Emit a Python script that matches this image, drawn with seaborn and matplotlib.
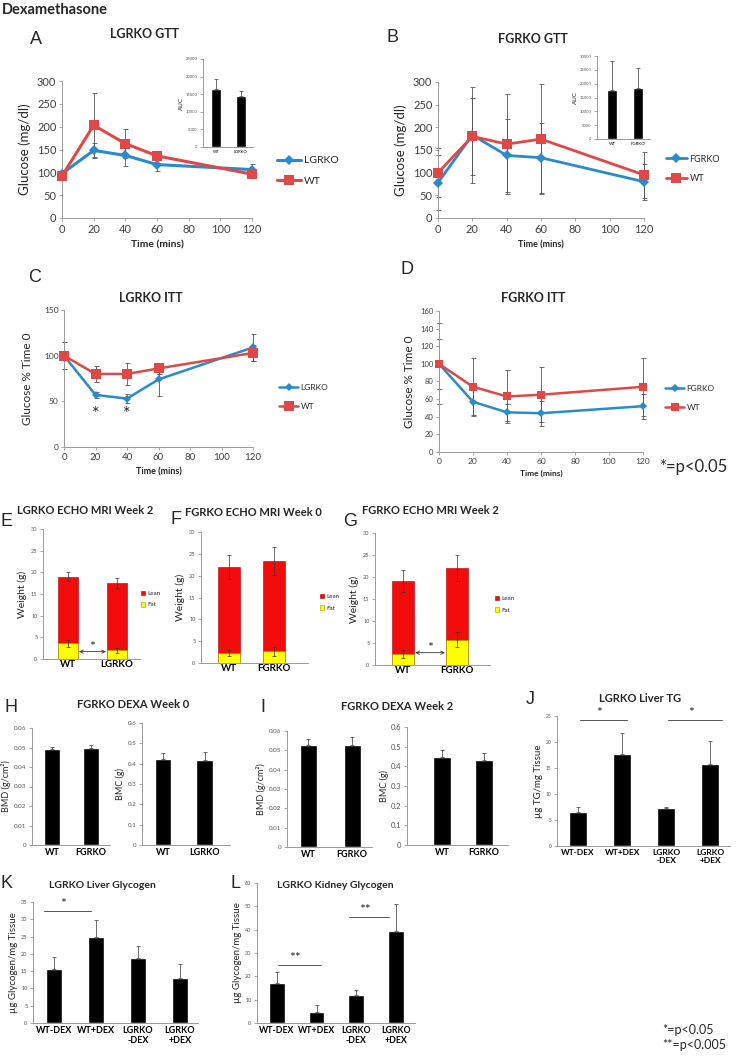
import numpy as np
import pandas as pd
import matplotlib
matplotlib.use("Agg")
import matplotlib.pyplot as plt
import seaborn as sns
from matplotlib.patches import Patch

# values
times = [0, 20, 40, 60, 120]

# A  LGRKO GTT
gtt_lgrko = [97, 148, 137, 117, 106]
gtt_lgrko_err = [8, 17, 23, 15, 13]
gtt_lgrko_wt = [92, 203, 163, 136, 96]
gtt_lgrko_wt_err = [6, 70, 32, 10, 5]
auc_a_groups = ["WT", "LGRKO"]
auc_a = [16500, 14500]
auc_a_err = [2700, 1500]

# B  FGRKO GTT
gtt_fgrko = [78, 183, 138, 133, 80]
gtt_fgrko_err = [60, 105, 80, 77, 40]
gtt_fgrko_wt = [100, 180, 163, 174, 95]
gtt_fgrko_wt_err = [54, 85, 110, 122, 50]
auc_b_groups = ["WT", "FGRKO"]
auc_b = [17800, 18300]
auc_b_err = [10500, 7400]

# C  LGRKO ITT
itt_lgrko = [100, 57, 53, 74, 109]
itt_lgrko_err = [15, 3, 5, 18, 15]
itt_lgrko_wt = [100, 80, 80, 86, 103]
itt_lgrko_wt_err = [15, 9, 12, 6, 9]
itt_lgrko_sig = [20, 40]

# D  FGRKO ITT
itt_fgrko = [100, 57, 45, 44, 52]
itt_fgrko_err = [28, 15, 10, 14, 14]
itt_fgrko_wt = [100, 74, 63, 65, 74]
itt_fgrko_wt_err = [46, 33, 30, 31, 33]

# E/F/G  echo MRI (total = lean + fat)
mri_e_groups = ["WT", "LGRKO"]
mri_e_total = [19.0, 17.6]
mri_e_total_err = [1.1, 1.1]
mri_e_fat = [3.6, 2.0]
mri_e_fat_err = [0.9, 0.5]

mri_f_groups = ["WT", "FGRKO"]
mri_f_total = [22.0, 23.3]
mri_f_total_err = [2.8, 3.2]
mri_f_fat = [2.3, 2.7]
mri_f_fat_err = [0.7, 1.0]

mri_g_groups = ["WT", "FGRKO"]
mri_g_total = [19.0, 22.0]
mri_g_total_err = [2.5, 3.0]
mri_g_fat = [2.5, 5.7]
mri_g_fat_err = [1.0, 1.7]

# H/I  DEXA
dexa_h_bmd_groups = ["WT", "FGRKO"]
dexa_h_bmd = [0.049, 0.0495]
dexa_h_bmd_err = [0.0015, 0.0017]
dexa_h_bmc_groups = ["WT", "LGRKO"]
dexa_h_bmc = [0.425, 0.418]
dexa_h_bmc_err = [0.027, 0.037]
dexa_i_bmd_groups = ["WT", "FGRKO"]
dexa_i_bmd = [0.053, 0.053]
dexa_i_bmd_err = [0.003, 0.004]
dexa_i_bmc_groups = ["WT", "FGRKO"]
dexa_i_bmc = [0.45, 0.43]
dexa_i_bmc_err = [0.035, 0.04]

# J/K/L  tissue assays
dex_groups = ["WT-DEX", "WT+DEX", "LGRKO\n-DEX", "LGRKO\n+DEX"]
liver_tg = [6.6, 17.6, 7.3, 15.7]
liver_tg_err = [0.9, 4.2, 0.2, 4.5]
liver_glycogen = [15.7, 25.0, 18.8, 13.1]
liver_glycogen_err = [3.4, 4.7, 3.6, 4.0]
kidney_glycogen = [17.0, 4.8, 12.0, 39.5]
kidney_glycogen_err = [4.7, 3.0, 2.3, 11.5]

W, H = 740, 1056
BLUE = "#2A8BCC"
RED = "#E04848"
LEAN = "#F20C0C"
FAT = "#FFFF00"

sns.set_style("ticks")
plt.rcParams["font.family"] = ["Lato", "DejaVu Sans"]
plt.rcParams["axes.linewidth"] = 0.8

fig = plt.figure(figsize=(W / 100, H / 100), dpi=100)


def add_ax(l, t, r, b):
    return fig.add_axes([l / W, 1 - b / H, (r - l) / W, (b - t) / H])


def ftext(x, y, s, **kw):
    kw.setdefault("ha", "center")
    kw.setdefault("va", "center")
    fig.text(x / W, 1 - y / H, s, **kw)


def style(ax, fs, labelcolor="#555555"):
    sns.despine(ax=ax)
    for sp in ("left", "bottom"):
        ax.spines[sp].set_color("#9a9a9a")
        ax.spines[sp].set_linewidth(0.7)
    ax.tick_params(labelsize=fs, colors="#9a9a9a", labelcolor=labelcolor,
                   length=2.5, width=0.6, pad=1.5)


def curves(ax, ko_name, ko, ko_err, wt, wt_err, lw, ms_ko, ms_wt):
    for vals, errs in [(ko, ko_err), (wt, wt_err)]:
        ax.errorbar(times, vals, yerr=errs, fmt="none", ecolor="#555555",
                    elinewidth=0.6, capsize=1.8, capthick=0.6, zorder=1, clip_on=False)
    for name, vals, color, marker, ms in [(ko_name, ko, BLUE, "D", ms_ko),
                                          ("WT", wt, RED, "s", ms_wt)]:
        sns.lineplot(x=times, y=vals, color=color, marker=marker, markersize=ms,
                     markeredgewidth=0, linewidth=lw, label=name, errorbar=None,
                     ax=ax, clip_on=False, zorder=3)
    ax.set_xlim(0, 120)
    ax.set_xticks(range(0, 121, 20))


def curve_legend(ax, x, y, fs, spacing):
    h, l = ax.get_legend_handles_labels()
    ax.legend(h, l, loc="center left", bbox_to_anchor=(x / W, 1 - y / H),
              bbox_transform=fig.transFigure, frameon=False, fontsize=fs,
              handlelength=2.3, handletextpad=0.3, labelspacing=spacing,
              borderpad=0, borderaxespad=0)


def bars(box, cats, vals, errs, yticks, xlim, width, tick_fs, xlab_fs, ylabel, ylab_fs, pad=2):
    ax = add_ax(*box)
    sns.barplot(x=cats, y=vals, color="black", width=width, saturation=1,
                errorbar=None, ax=ax)
    ax.errorbar(np.arange(len(cats)), vals, yerr=[np.zeros(len(vals)), errs],
                fmt="none", ecolor="#555555", elinewidth=0.6, capsize=1.5, capthick=0.6)
    ax.set_xlim(*xlim)
    ax.set_ylim(yticks[0], yticks[-1])
    ax.set_yticks(yticks)
    ax.set_yticklabels([f"{v:g}" for v in yticks])
    style(ax, tick_fs)
    ax.tick_params(axis="x", length=0, labelsize=xlab_fs, labelcolor="black", pad=2)
    for t in ax.get_xticklabels():
        t.set_fontweight("bold")
    ax.set_ylabel(ylabel, fontsize=ylab_fs, labelpad=pad)
    ax.set_xlabel("")
    return ax


def mri(box, cats, total, total_err, fat, fat_err, xlim, width, leg_xy):
    ax = add_ax(*box)
    sns.barplot(x=cats, y=total, color=LEAN, width=width, saturation=1,
                errorbar=None, edgecolor="#b00000", linewidth=0.4, ax=ax)
    sns.barplot(x=cats, y=fat, color=FAT, width=width, saturation=1,
                errorbar=None, edgecolor="#9a9a00", linewidth=0.4, ax=ax)
    pos = np.arange(len(cats))
    for v, e in [(total, total_err), (fat, fat_err)]:
        ax.errorbar(pos, v, yerr=e, fmt="none", ecolor="#333333",
                    elinewidth=0.5, capsize=1.3, capthick=0.5)
    ax.set_xlim(*xlim)
    ax.set_ylim(0, 30)
    ax.set_yticks(range(0, 31, 5))
    style(ax, 4)
    ax.tick_params(axis="x", length=0, labelsize=7, labelcolor="black", pad=1)
    for t in ax.get_xticklabels():
        t.set_fontweight("bold")
    ax.set_ylabel("Weight (g)", fontsize=7.5, labelpad=3)
    ax.set_xlabel("")
    handles = [Patch(facecolor=LEAN, edgecolor="#b00000", lw=0.4),
               Patch(facecolor=FAT, edgecolor="#9a9a00", lw=0.4)]
    ax.legend(handles, ["Lean", "Fat"], loc="center left",
              bbox_to_anchor=(leg_xy[0] / W, 1 - leg_xy[1] / H),
              bbox_transform=fig.transFigure, frameon=False, fontsize=4.5,
              handlelength=0.7, handleheight=0.7, handletextpad=0.3,
              labelspacing=1.0, borderpad=0, borderaxespad=0)
    return ax


def sig_arrow(ax, width, y):
    ax.annotate("", xy=(1 - width / 2 - 0.02, y), xytext=(width / 2 + 0.02, y),
                arrowprops=dict(arrowstyle="<->", lw=0.6, color="#333333",
                                mutation_scale=6, shrinkA=0, shrinkB=0))
    ax.text(0.5, y - 0.3, "*", ha="center", va="bottom", fontsize=10)


def sig_line(ax, x0, x1, y, label, dy, fs=10):
    ax.plot([x0, x1], [y, y], color="#555555", lw=0.7, clip_on=False)
    ax.text((x0 + x1) / 2 - 0.1, y + dy, label, ha="center", va="bottom",
            fontsize=fs, clip_on=False)


# ---------------- A ----------------
ax = add_ax(62, 81, 252, 218)
curves(ax, "LGRKO", gtt_lgrko, gtt_lgrko_err, gtt_lgrko_wt, gtt_lgrko_wt_err, 2.2, 5.5, 7.5)
ax.set_ylim(0, 300)
ax.set_yticks(range(0, 301, 50))
style(ax, 8, "#404040")
ax.set_ylabel("Glucose (mg/dl)", fontsize=9.5, labelpad=4)
ax.set_xlabel("Time (mins)", fontsize=7.5, fontweight="bold", labelpad=4)
curve_legend(ax, 277, 171, 7.5, 1.1)

ins = bars((203, 59, 253, 147), auc_a_groups, auc_a, auc_a_err,
           list(range(0, 25001, 5000)), (-0.52, 1.48), 0.42, 3, 3, "AUC", 4.5, 1)
for t in ins.get_xticklabels():
    t.set_fontweight("normal")

# ---------------- B ----------------
ax = add_ax(438, 82, 644, 218)
curves(ax, "FGRKO", gtt_fgrko, gtt_fgrko_err, gtt_fgrko_wt, gtt_fgrko_wt_err, 2.0, 5, 7)
ax.set_ylim(0, 300)
ax.set_yticks(range(0, 301, 50))
style(ax, 8, "#404040")
ax.set_ylabel("Glucose (mg/dl)", fontsize=9.5, labelpad=4)
ax.set_xlabel("Time (mins)", fontsize=6.5, fontweight="bold", labelpad=4)
curve_legend(ax, 666, 169, 6.5, 1.2)

ins = bars((597, 56, 650, 139), auc_b_groups, auc_b, auc_b_err,
           list(range(0, 30001, 5000)), (-0.58, 1.46), 0.4, 3, 3.2, "AUC", 4.5, 1)
for t in ins.get_xticklabels():
    t.set_fontweight("normal")

# ---------------- C ----------------
ax = add_ax(64, 310, 253, 447)
curves(ax, "LGRKO", itt_lgrko, itt_lgrko_err, itt_lgrko_wt, itt_lgrko_wt_err, 1.8, 4.5, 6.5)
ax.set_ylim(0, 150)
ax.set_yticks(range(0, 151, 50))
style(ax, 6, "#404040")
ax.tick_params(axis="x", labelsize=7)
ax.set_ylabel("Glucose % Time 0", fontsize=8.5, labelpad=8)
ax.set_xlabel("Time (mins)", fontsize=6.5, fontweight="bold", labelpad=4)
for t in itt_lgrko_sig:
    ax.text(t, 27, "*", ha="center", va="bottom", fontsize=13)
curve_legend(ax, 279, 397, 6, 1.5)

# ---------------- D ----------------
ax = add_ax(439, 311, 643, 452)
curves(ax, "FGRKO", itt_fgrko, itt_fgrko_err, itt_fgrko_wt, itt_fgrko_wt_err, 1.8, 4.2, 6.2)
ax.set_ylim(0, 160)
ax.set_yticks(range(0, 161, 20))
style(ax, 5.5, "#404040")
ax.tick_params(axis="x", labelsize=6)
ax.set_ylabel("Glucose % Time 0", fontsize=8.5, labelpad=4)
ax.set_xlabel("Time (mins)", fontsize=6, fontweight="bold", labelpad=4)
curve_legend(ax, 665, 398, 6, 1.4)

# ---------------- E/F/G ----------------
ax = mri((43, 529, 140, 659), mri_e_groups, mri_e_total, mri_e_total_err,
         mri_e_fat, mri_e_fat_err, (-0.51, 1.47), 0.41, (141, 599))
sig_arrow(ax, 0.41, 1.7)
mri((201, 532, 308, 663), mri_f_groups, mri_f_total, mri_f_total_err,
    mri_f_fat, mri_f_fat_err, (-0.62, 1.76), 0.49, (320, 602))
ax = mri((375, 533, 490, 665), mri_g_groups, mri_g_total, mri_g_total_err,
         mri_g_fat, mri_g_fat_err, (-0.52, 1.61), 0.41, (495, 604))
sig_arrow(ax, 0.41, 2.8)

# ---------------- H/I ----------------
bmd_ticks = [0, 0.01, 0.02, 0.03, 0.04, 0.05, 0.06]
bmc_ticks = [0, 0.1, 0.2, 0.3, 0.4, 0.5, 0.6]
bars((32, 728, 110, 845), dexa_h_bmd_groups, dexa_h_bmd, dexa_h_bmd_err,
     bmd_ticks, (-0.51, 1.49), 0.41, 4.5, 6.5, "BMD (g/cm²)", 6.5)
bars((142, 723, 230, 845), dexa_h_bmc_groups, dexa_h_bmc, dexa_h_bmc_err,
     bmc_ticks, (-0.5, 1.6), 0.4, 4.5, 6.5, "BMC (g)", 6.5)
bars((287, 731, 372, 847), dexa_i_bmd_groups, dexa_i_bmd, dexa_i_bmd_err,
     bmd_ticks, (-0.48, 1.45), 0.39, 4.5, 6.5, "BMD (g/cm²)", 6.5)
bars((407, 727, 508, 845), dexa_i_bmc_groups, dexa_i_bmc, dexa_i_bmc_err,
     bmc_ticks, (-0.83, 1.57), 0.43, 5.5, 6.5, "BMC (g)", 6.5, 1)

# ---------------- J/K/L ----------------
ax = bars((557, 716, 730, 846), dex_groups, liver_tg, liver_tg_err,
          list(range(0, 26, 5)), (-0.48, 3.45), 0.41, 3.5, 6, "µg TG/mg Tissue", 7)
sig_line(ax, 0.05, 1.1, 24.2, "*", 0.3)
sig_line(ax, 2.05, 3.27, 24.2, "*", 0.3)

ax = bars((33, 902, 198, 1023), dex_groups, liver_glycogen, liver_glycogen_err,
          list(range(0, 36, 5)), (-0.5, 3.43), 0.4, 4, 6.5, "µg Glycogen/mg Tissue", 7)
sig_line(ax, -0.24, 0.88, 32.4, "*", 0.4)

ax = bars((257, 883, 415, 1023), dex_groups, kidney_glycogen, kidney_glycogen_err,
          list(range(0, 61, 10)), (-0.5, 3.48), 0.4, 4, 6.3, "µg Glycogen/mg Tissue", 7)
sig_line(ax, 0.02, 1.12, 24.9, "**", 0.5)
sig_line(ax, 1.82, 2.82, 45.5, "**", 0.5)

# ---------------- text ----------------
ftext(2, 10, "Dexamethasone", ha="left", fontsize=10.5, fontweight="bold")
letter = dict(fontsize=13, family=["Liberation Sans", "DejaVu Sans"])
ftext(36, 40, "A", **letter)
ftext(393, 38, "B", **letter)
ftext(35, 277, "C", **letter)
ftext(407, 270, "D", **letter)
ftext(7, 521, "E", **letter)
ftext(176, 519, "F", **letter)
ftext(350, 521, "G", **letter)
ftext(11, 708, "H", **letter)
ftext(263, 708, "I", **letter)
ftext(530, 700, "J", **letter)
ftext(6, 884, "K", **letter)
ftext(236, 884, "L", **letter)

ttl = dict(fontweight="bold")
ftext(145, 34, "LGRKO GTT", fontsize=9, **ttl)
ftext(533, 39, "FGRKO GTT", fontsize=9, **ttl)
ftext(151, 298, "LGRKO ITT", fontsize=9, **ttl)
ftext(533, 298, "FGRKO ITT", fontsize=9, **ttl)
ftext(85, 511, "LGRKO ECHO MRI Week 2", fontsize=8, **ttl)
ftext(253, 512, "FGRKO ECHO MRI Week 0", fontsize=8, **ttl)
ftext(430, 511, "FGRKO ECHO MRI Week 2", fontsize=8, **ttl)
ftext(133, 705, "FGRKO DEXA Week 0", fontsize=8, **ttl)
ftext(397, 706, "FGRKO DEXA Week 2", fontsize=8, **ttl)
ftext(640, 699, "LGRKO Liver TG", fontsize=8, **ttl)
ftext(102, 885, "LGRKO Liver Glycogen", fontsize=7.5, **ttl)
ftext(335, 886, "LGRKO Kidney Glycogen", fontsize=7.5, **ttl)

ftext(693, 467, "*=p<0.05", fontsize=12)
ftext(662, 1030, "*=p<0.05", ha="left", fontsize=9)
ftext(662, 1045, "**=p<0.005", ha="left", fontsize=9)

fig.savefig("out.png", dpi=100, facecolor="white")
